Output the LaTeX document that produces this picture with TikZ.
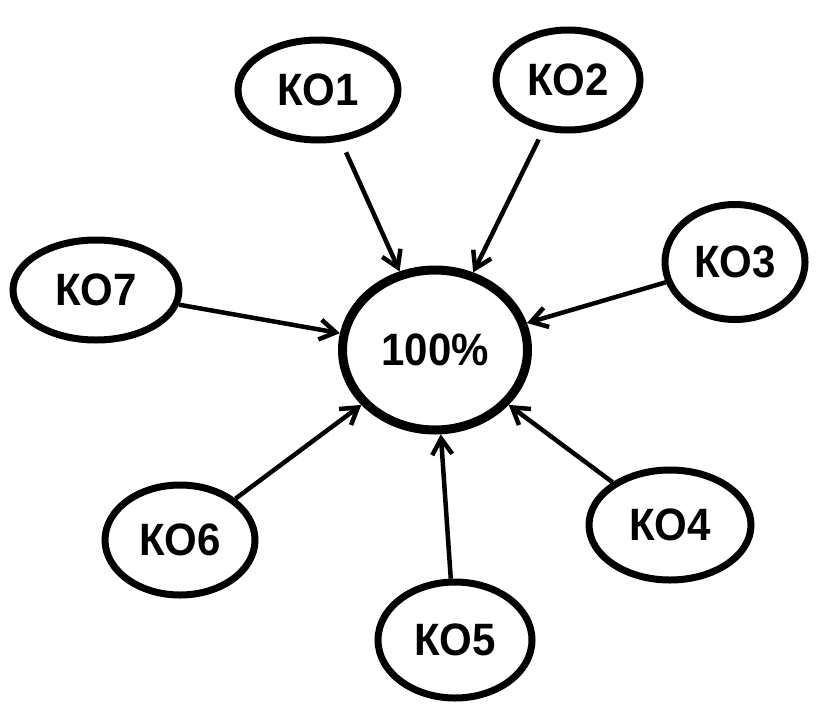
\documentclass[tikz,border=0pt]{standalone}
\usepackage{fontspec}
\setmainfont{Liberation Sans}
\usetikzlibrary{shapes.geometric,arrows.meta}
\tikzset{
  ko/.style={draw=black, line width=7pt, ellipse, inner sep=0pt},
  lab/.style={font=\fontsize{42}{42}\bfseries},
  conn/.style={line width=4.5pt, -{Straight Barb[length=16pt,width=20pt,line width=4.5pt]}, shorten <=#1},
}
\newcommand{\stretched}[1]{\scalebox{1}[1.08]{#1}}
\begin{document}
\begin{tikzpicture}[x=1pt,y=-1pt]
\useasboundingbox (0,0) rectangle (818,704);
\node[ko, line width=9pt, minimum width=185pt, minimum height=160pt, lab] (c) at (435,350) {\stretched{100\%}};
\node[ko, minimum width=160pt, minimum height=100pt, lab] (k1) at (318,90) {\stretched{КО1}};
\node[ko, minimum width=144pt, minimum height=100pt, lab] (k2) at (568,80) {\stretched{КО2}};
\node[ko, minimum width=140pt, minimum height=115pt, lab] (k3) at (735,262) {\stretched{КО3}};
\node[ko, minimum width=166pt, minimum height=100pt, lab] (k7) at (96,290) {\stretched{КО7}};
\node[ko, minimum width=150pt, minimum height=110pt, lab] (k6) at (180,540) {\stretched{КО6}};
\node[ko, minimum width=162pt, minimum height=110pt, lab] (k4) at (670,525) {\stretched{КО4}};
\node[ko, minimum width=154pt, minimum height=116pt, lab] (k5) at (455,640) {\stretched{КО5}};
\draw[conn=12pt] (k1) -- (c);
\draw[conn=10pt] (k2) -- (c);
\draw[conn=0pt] (k3) -- (c);
\draw[conn=0pt] (k7) -- (c);
\draw[conn=0pt] (k6) -- (c);
\draw[conn=0pt] (k5) -- (c);
\draw[conn=0pt] (k4) -- (c);
\end{tikzpicture}
\end{document}
